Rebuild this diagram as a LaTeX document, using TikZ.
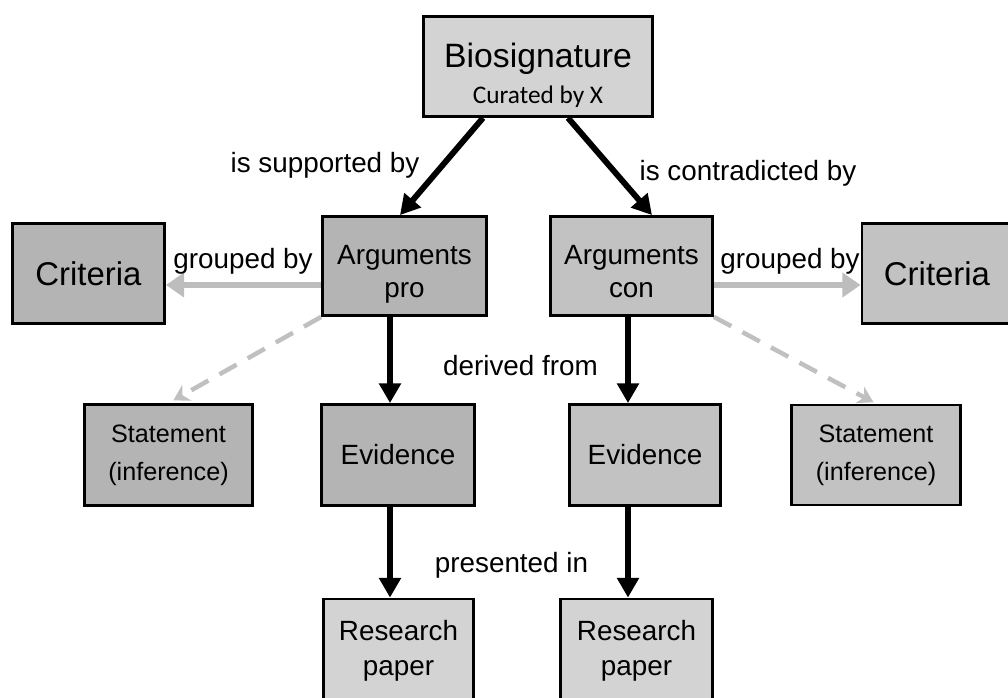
\documentclass[tikz,border=0pt]{standalone}
\usepackage{fontspec}
\setmainfont{Liberation Sans}
\newfontfamily\curfont{Carlito}
\usetikzlibrary{arrows.meta,calc}
\definecolor{darkfill}{HTML}{B4B4B4}
\definecolor{midfill}{HTML}{C2C2C2}
\definecolor{lightfill}{HTML}{D3D3D3}
\definecolor{arrowgrey}{HTML}{BDBDBD}
\definecolor{dashgrey}{HTML}{C0C0C0}
\newcommand\pxu{0.025cm}
\tikzset{
  box/.style={draw,line width=2pt,inner sep=0pt,align=center,font=\fontsize{19.8}{23.4}\selectfont},
  boxsize/.style 2 args={minimum width=#1*\pxu,minimum height=#2*\pxu},
  blackarrow/.style={line width=4.2pt,-{Triangle[length=14pt,width=15pt]}},
  greyarrow/.style={draw=arrowgrey,line width=4pt,-{Triangle[length=13pt,width=17pt]}},
  dasharrow/.style={draw=dashgrey,line width=3.2pt,dash pattern=on 14pt off 9pt,-{Stealth[length=11pt,width=13pt]}},
  lbl/.style={anchor=base,inner sep=0pt,font=\fontsize{19.8}{23.4}\selectfont}
}
\begin{document}
\begin{tikzpicture}[x=0.025cm,y=-0.025cm]
\useasboundingbox(0,0)rectangle(1008,698);
% boxes
\node[box,fill=lightfill,boxsize={229}{100},font=\fontsize{24}{25.5}\selectfont](bio)at(538,66.5){\rule{0pt}{30pt}Biosignature\\{\curfont\fontsize{18}{25.5}\selectfont Curated by X}};
\node[box,fill=darkfill,boxsize={164}{99}](pro)at(404.5,266){\rule{0pt}{26pt}Arguments\\pro};
\node[box,fill=midfill,boxsize={162}{99}](con)at(631.5,266){\rule{0pt}{26pt}Arguments\\con\rule[-4.2pt]{0pt}{4.2pt}};
\node[box,fill=darkfill,boxsize={152}{100},font=\fontsize{23.4}{26}\selectfont](critL)at(88.5,273.5){Criteria};
\node[box,fill=midfill,boxsize={150}{100},font=\fontsize{23.4}{26}\selectfont](critR)at(937,273.5){Criteria};
\node[box,fill=darkfill,boxsize={168}{101},font=\fontsize{17.9}{26.9}\selectfont](stL)at(168.5,455){Statement\\(inference)};
\node[box,fill=darkfill,boxsize={153}{101}](evL)at(398,455){Evidence};
\node[box,fill=midfill,boxsize={151}{101}](evR)at(645,455){Evidence};
\node[box,fill=midfill,boxsize={169}{100},font=\fontsize{17.9}{26.9}\selectfont](stR)at(876,455){Statement\\(inference)};
\node[box,fill=lightfill,boxsize={150}{104},font=\fontsize{19.8}{24.8}\selectfont](rpL)at(398.5,651){Research\\paper};
\node[box,fill=lightfill,boxsize={152}{104},font=\fontsize{19.8}{24.8}\selectfont](rpR)at(636.5,651){Research\\paper};
% columns and row for the straight connectors
\coordinate(colL)at(390,0);
\coordinate(colR)at(628,0);
\coordinate(rowG)at(0,285);
% connectors
\draw[blackarrow]($(bio.south)+(-55,0)$)--($(pro.north)+(-4.5,0)$);
\draw[blackarrow]($(bio.south)+(30,0)$)--($(con.north)+(20.5,0)$);
\draw[blackarrow](pro.south-|colL)--(evL.north-|colL);
\draw[blackarrow](con.south-|colR)--(evR.north-|colR);
\draw[blackarrow](evL.south-|colL)--(rpL.north-|colL);
\draw[blackarrow](evR.south-|colR)--(rpR.north-|colR);
\draw[greyarrow](pro.west|-rowG)--(critL.east|-rowG);
\draw[greyarrow](con.east|-rowG)--(critR.west|-rowG);
\draw[dasharrow,shorten >=4pt](pro.south west)--(stL.north);
\draw[dasharrow,shorten >=2pt](con.south east)--(stR.north);
% labels
\node[lbl](supp)at(325,172){is supported by};
\node[lbl](contra)at(748,180){is contradicted by};
\node[lbl](grpL)at(243,268){grouped by};
\node[lbl](grpR)at(790,268){grouped by};
\node[lbl](deriv)at(520.5,375){derived from};
\node[lbl](pres)at(511.5,572){presented in};
\end{tikzpicture}
\end{document}
